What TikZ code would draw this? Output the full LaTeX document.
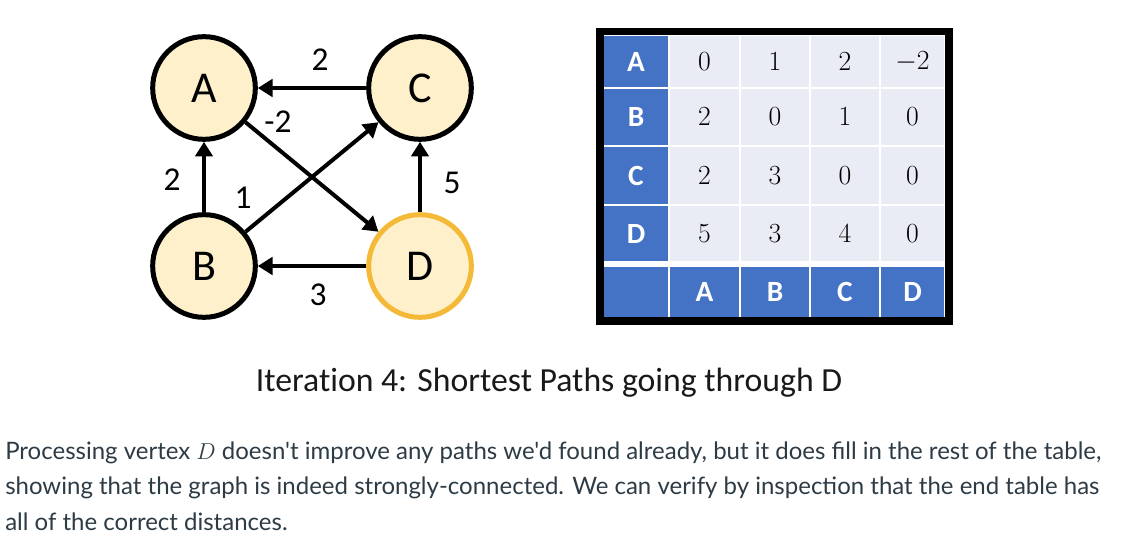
\documentclass[tikz,border=0pt]{standalone}
\usepackage{fontspec}
\newfontfamily\latofont{Lato}
\newfontfamily\calibri{Carlito}[Ligatures=NoCommon]
\usetikzlibrary{arrows.meta}

\definecolor{vfill}{HTML}{FDF0CB}
\definecolor{dring}{HTML}{F4B936}
\definecolor{tblue}{HTML}{4472C4}
\definecolor{tcell}{HTML}{E9EBF5}
\definecolor{ink}{HTML}{2D3B45}

\begin{document}
\begin{tikzpicture}[x=0.75pt, y=-0.75pt, >={Triangle[length=11pt,width=13pt]},
  vertex/.style={circle, draw=black, fill=vfill, line width=3.75pt, minimum size=77pt,
    inner sep=0pt, font=\calibri\fontsize{33}{33}\selectfont},
  edge/.style={->, line width=3pt},
  wt/.style={font=\calibri\fontsize{25}{25}\selectfont, inner sep=0pt},
  headcell/.style={fill=tblue, text=white, inner sep=0pt,
    font=\calibri\bfseries\fontsize{22}{22}\selectfont},
  numcell/.style={fill=tcell, inner sep=0pt, font=\fontsize{22}{22}\selectfont}]
  \useasboundingbox (0,0) rectangle (1121,552);

  % graph
  \node[vertex] (A) at (204,88) {A};
  \node[vertex] (C) at (420,88) {C};
  \node[vertex] (B) at (204,266) {B};
  \node[vertex, draw=dring] (D) at (420,266) {D};
  \draw[edge] (C) -- (A);
  \draw[edge] (B) -- (A);
  \draw[edge] (D) -- (C);
  \draw[edge] (D) -- (B);
  \draw[edge] (A) -- (D);
  \draw[edge] (B) -- (C);
  \node[wt] (wCA) at (320,60) {2};
  \node[wt] (wAD) at (278,122) {-2};
  \node[wt] (wBA) at (172,180) {2};
  \node[wt] (wBC) at (243,198) {1};
  \node[wt] (wDC) at (452,183) {5};
  \node[wt] (wDB) at (318,295) {3};

  % distance table
  \def\dist{{{0,1,2,-2},{2,0,1,0},{2,3,0,0},{5,3,4,0}}}
  \fill[black] (596,28) rectangle (953,325);
  \fill[white] (604,35) rectangle (945,317);
  \foreach \r/\ya/\yb [count=\i from 0] in {A/35/88, B/88/146, C/146/205, D/205/262} {
    \node[headcell, minimum width=48pt, minimum height={(\yb-\ya-2)*0.75pt}]
      (rh-\r) at (636, {(\ya+\yb)/2}) {\r};
    \foreach \c/\xa/\xb [count=\j from 0] in {A/669/740, B/740/810, C/810/880, D/880/945} {
      \pgfmathtruncatemacro\v{\dist[\i][\j]}
      \node[numcell, minimum width={(\xb-\xa-2)*0.75pt}, minimum height={(\yb-\ya-2)*0.75pt}]
        (d-\r-\c) at ({(\xa+\xb)/2}, {(\ya+\yb)/2}) {$\v$};
    }
  }
  \node[headcell, minimum width=48pt, minimum height=37.5pt] (corner) at (636,292) {};
  \foreach \c/\xa/\xb in {A/669/740, B/740/810, C/810/880, D/880/945}
    \node[headcell, minimum width={(\xb-\xa-2)*0.75pt}, minimum height=37.5pt]
      (ch-\c) at ({(\xa+\xb)/2}, 292) {\c};

  % caption and text
  \node[font=\calibri\fontsize{25.3}{25.3}\selectfont, text=black!90] (title) at (549,383)
    {Iteration 4: Shortest Paths going through D};
  \node[anchor=base west, align=left, inner sep=0pt, text=ink,
    font=\latofont\fontsize{18}{26.5}\selectfont] (para) at (5,530)
    {Processing vertex $D$ doesn't improve any paths we'd found already, but it does fill in the rest of the table,\\
     showing that the graph is indeed strongly-connected. We can verify by inspection that the end table has\\
     all of the correct distances.};
\end{tikzpicture}
\end{document}
